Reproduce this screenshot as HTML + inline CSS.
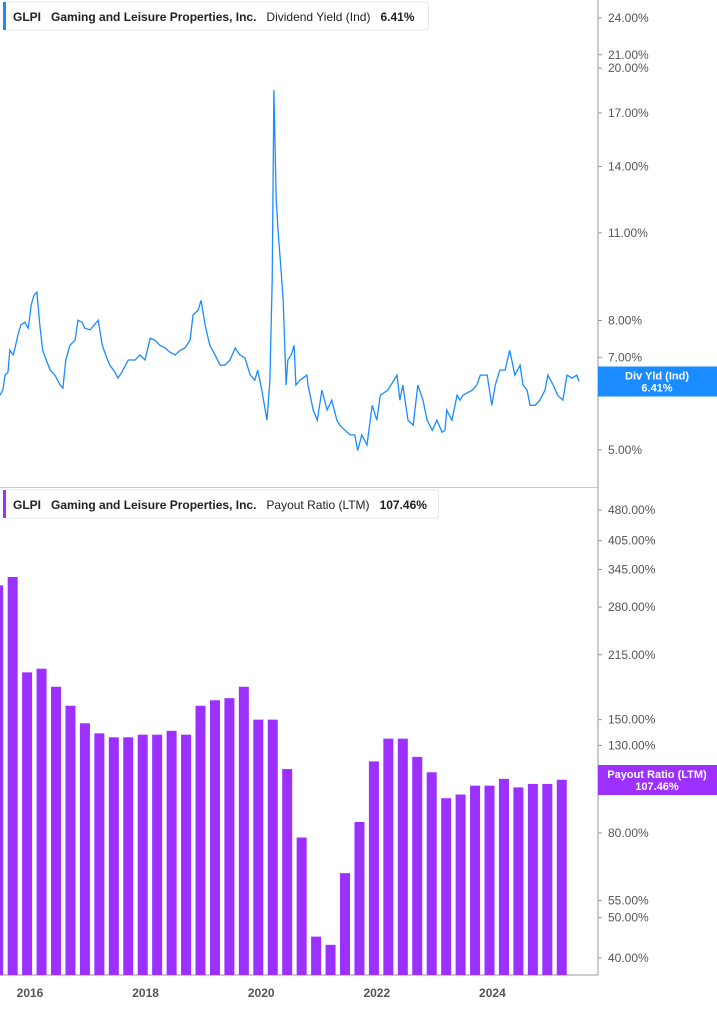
<!DOCTYPE html>
<html><head><meta charset="utf-8"><style>
body{margin:0;background:#fff;font-family:"Liberation Sans",sans-serif;}
svg text{font-family:"Liberation Sans",sans-serif;}
</style></head><body>
<svg id="c" width="717" height="1005" xmlns="http://www.w3.org/2000/svg"></svg>
<script>
const yieldDates=[2015.48,2015.53,2015.57,2015.62,2015.65,2015.71,2015.74,2015.79,2015.84,2015.91,2015.97,2016.02,2016.07,2016.12,2016.17,2016.22,2016.28,2016.35,2016.43,2016.52,2016.57,2016.62,2016.69,2016.78,2016.83,2016.90,2016.95,2017.04,2017.18,2017.25,2017.31,2017.38,2017.47,2017.52,2017.59,2017.70,2017.82,2017.90,2017.99,2018.08,2018.16,2018.25,2018.34,2018.42,2018.51,2018.60,2018.68,2018.77,2018.82,2018.91,2018.96,2019.03,2019.11,2019.20,2019.29,2019.37,2019.46,2019.55,2019.63,2019.72,2019.81,2019.89,2019.94,2020.01,2020.10,2020.15,2020.19,2020.22,2020.26,2020.29,2020.33,2020.38,2020.43,2020.46,2020.52,2020.57,2020.60,2020.67,2020.79,2020.81,2020.90,2020.97,2021.05,2021.14,2021.22,2021.31,2021.36,2021.45,2021.54,2021.62,2021.67,2021.74,2021.83,2021.92,2022.00,2022.06,2022.19,2022.35,2022.40,2022.45,2022.54,2022.63,2022.71,2022.80,2022.87,2022.96,2023.04,2023.13,2023.18,2023.21,2023.30,2023.39,2023.44,2023.49,2023.65,2023.73,2023.79,2023.91,2023.99,2024.05,2024.13,2024.22,2024.30,2024.39,2024.48,2024.53,2024.60,2024.65,2024.74,2024.82,2024.91,2024.96,2025.05,2025.13,2025.22,2025.29,2025.38,2025.46,2025.50];
const yieldValues=[6.10,6.21,6.56,6.63,7.18,7.06,7.24,7.59,7.87,7.95,7.78,8.46,8.77,8.87,7.87,7.18,6.93,6.68,6.56,6.33,6.26,6.93,7.31,7.45,8.01,7.95,7.78,7.73,8.01,7.31,7.06,6.80,6.63,6.49,6.63,6.93,6.93,7.06,6.93,7.50,7.45,7.31,7.24,7.13,7.06,7.18,7.24,7.45,8.16,8.31,8.61,7.87,7.31,7.06,6.80,6.80,6.93,7.24,7.06,6.98,6.56,6.44,6.68,6.21,5.57,6.44,9.26,18.47,12.39,11.11,9.96,8.61,6.33,6.93,7.06,7.31,6.33,6.44,6.56,6.33,5.78,5.57,6.21,5.78,5.99,5.57,5.47,5.37,5.28,5.28,4.99,5.28,5.09,5.88,5.57,6.10,6.21,6.56,5.99,6.33,5.57,5.47,6.33,5.99,5.57,5.37,5.57,5.33,5.37,5.78,5.57,6.10,5.99,6.10,6.21,6.33,6.56,6.56,5.88,6.33,6.68,6.68,7.18,6.56,6.80,6.33,6.21,5.88,5.88,5.99,6.21,6.56,6.33,6.10,5.99,6.56,6.49,6.56,6.41];
const payoutDates=[2015.45,2015.70,2015.95,2016.20,2016.45,2016.70,2016.95,2017.20,2017.45,2017.70,2017.95,2018.20,2018.45,2018.70,2018.95,2019.20,2019.45,2019.70,2019.95,2020.20,2020.45,2020.70,2020.95,2021.20,2021.45,2021.70,2021.95,2022.20,2022.45,2022.70,2022.95,2023.20,2023.45,2023.70,2023.95,2024.20,2024.45,2024.70,2024.95,2025.20];
const payoutValues=[316,331,195,199,180,162,147,139,136,136,138,138,141,138,162,167,169,180,150,150,114,78,45,43,64,85,119,135,135,122,112,97,99,104,104,108,103,105,105,107.46];
const yearTicks=[2016,2018,2020,2022,2024];
const yieldTicks=[24,21,20,17,14,11,8,7,5];
const payoutTicks=[480,405,345,280,215,150,130,105,80,55,50,40];

const NS="http://www.w3.org/2000/svg";
const svg=document.getElementById('c');
function el(t,a,p){const e=document.createElementNS(NS,t);for(const k in a)e.setAttribute(k,a[k]);(p||svg).appendChild(e);return e;}
const xS=d=>30+(d-2016)*57.8;
const yTop=v=>18+(Math.log10(24)-Math.log10(v))*634;
const yBot=v=>510+(Math.log10(480)-Math.log10(v))*415;

// grid/axes
let a=el('line',{x1:598,y1:0,x2:598,y2:975,stroke:'#999','stroke-width':1});


a=el('line',{x1:0,y1:487.5,x2:598,y2:487.5,stroke:'#ccc','stroke-width':1});


a=el('line',{x1:0,y1:975,x2:598,y2:975,stroke:'#999','stroke-width':1});



// bars
payoutValues.forEach((v,i)=>{
  const x=xS(payoutDates[i]);
  const r=el('rect',{x:x-5,y:yBot(v),width:10,height:975-yBot(v),fill:'#9b30ff'});
  
  
});

// line
let d='';
yieldValues.forEach((v,i)=>{d+=(i?'L':'M')+xS(yieldDates[i]).toFixed(1)+' '+yTop(v).toFixed(1);});
const ln=el('path',{d:d,fill:'none',stroke:'#1a8cff','stroke-width':1.3});



// y ticks
yieldTicks.forEach(v=>{
  const y=yTop(v);
  const t=el('text',{x:608,y:y+4,'font-size':12,fill:'#555'});t.textContent=v.toFixed(2)+'%';
  
  
  el('line',{x1:598,y1:y,x2:602,y2:y,stroke:'#999'});
});
payoutTicks.forEach(v=>{
  const y=yBot(v);
  const t=el('text',{x:608,y:y+4,'font-size':12,fill:'#555'});t.textContent=v.toFixed(2)+'%';
  
  
  el('line',{x1:598,y1:y,x2:602,y2:y,stroke:'#999'});
});
yearTicks.forEach(yr=>{
  const t=el('text',{x:xS(yr),y:997,'font-size':12,'font-weight':'bold',fill:'#555','text-anchor':'middle'});t.textContent=yr;
  
  
});

// right value labels
function valLabel(y,color,l1,l2,name){
  const g=el('g',{});
  
  
  el('rect',{x:598,y:y-15,width:119,height:30,fill:color},g);
  const t1=el('text',{x:657,y:y-2,'font-size':11,'font-weight':'bold',fill:'#fff','text-anchor':'middle'},g);t1.textContent=l1;
  const t2=el('text',{x:657,y:y+10,'font-size':11,'font-weight':'bold',fill:'#fff','text-anchor':'middle'},g);t2.textContent=l2;
}
valLabel(yTop(yieldValues[yieldValues.length-1]),'#1a8cff','Div Yld (Ind)','6.41%','yield-value-label');
valLabel(780,'#9b30ff','Payout Ratio (LTM)','107.46%','payout-value-label');

// legends
function legend(y,w,color,metric,val,name){
  const g=el('g',{});
  
  
  el('rect',{x:3.5,y:y,width:w,height:28,rx:3,fill:'#fff',stroke:'#e6e6e6'},g);
  el('rect',{x:3,y:y,width:3,height:28,fill:color},g);
  const t=el('text',{x:13,y:y+19,'font-size':12,'font-weight':'bold',fill:'#222'},g);
  t.innerHTML='GLPI<tspan dx="10">Gaming and Leisure Properties, Inc.</tspan><tspan dx="10" font-weight="normal">'+metric+'</tspan><tspan dx="10">'+val+'</tspan>';
}
legend(2,425,'#1a8cff','Dividend Yield (Ind)','6.41%','yield-legend');
legend(490,435,'#9b30ff','Payout Ratio (LTM)','107.46%','payout-legend');
</script>
</body></html>
